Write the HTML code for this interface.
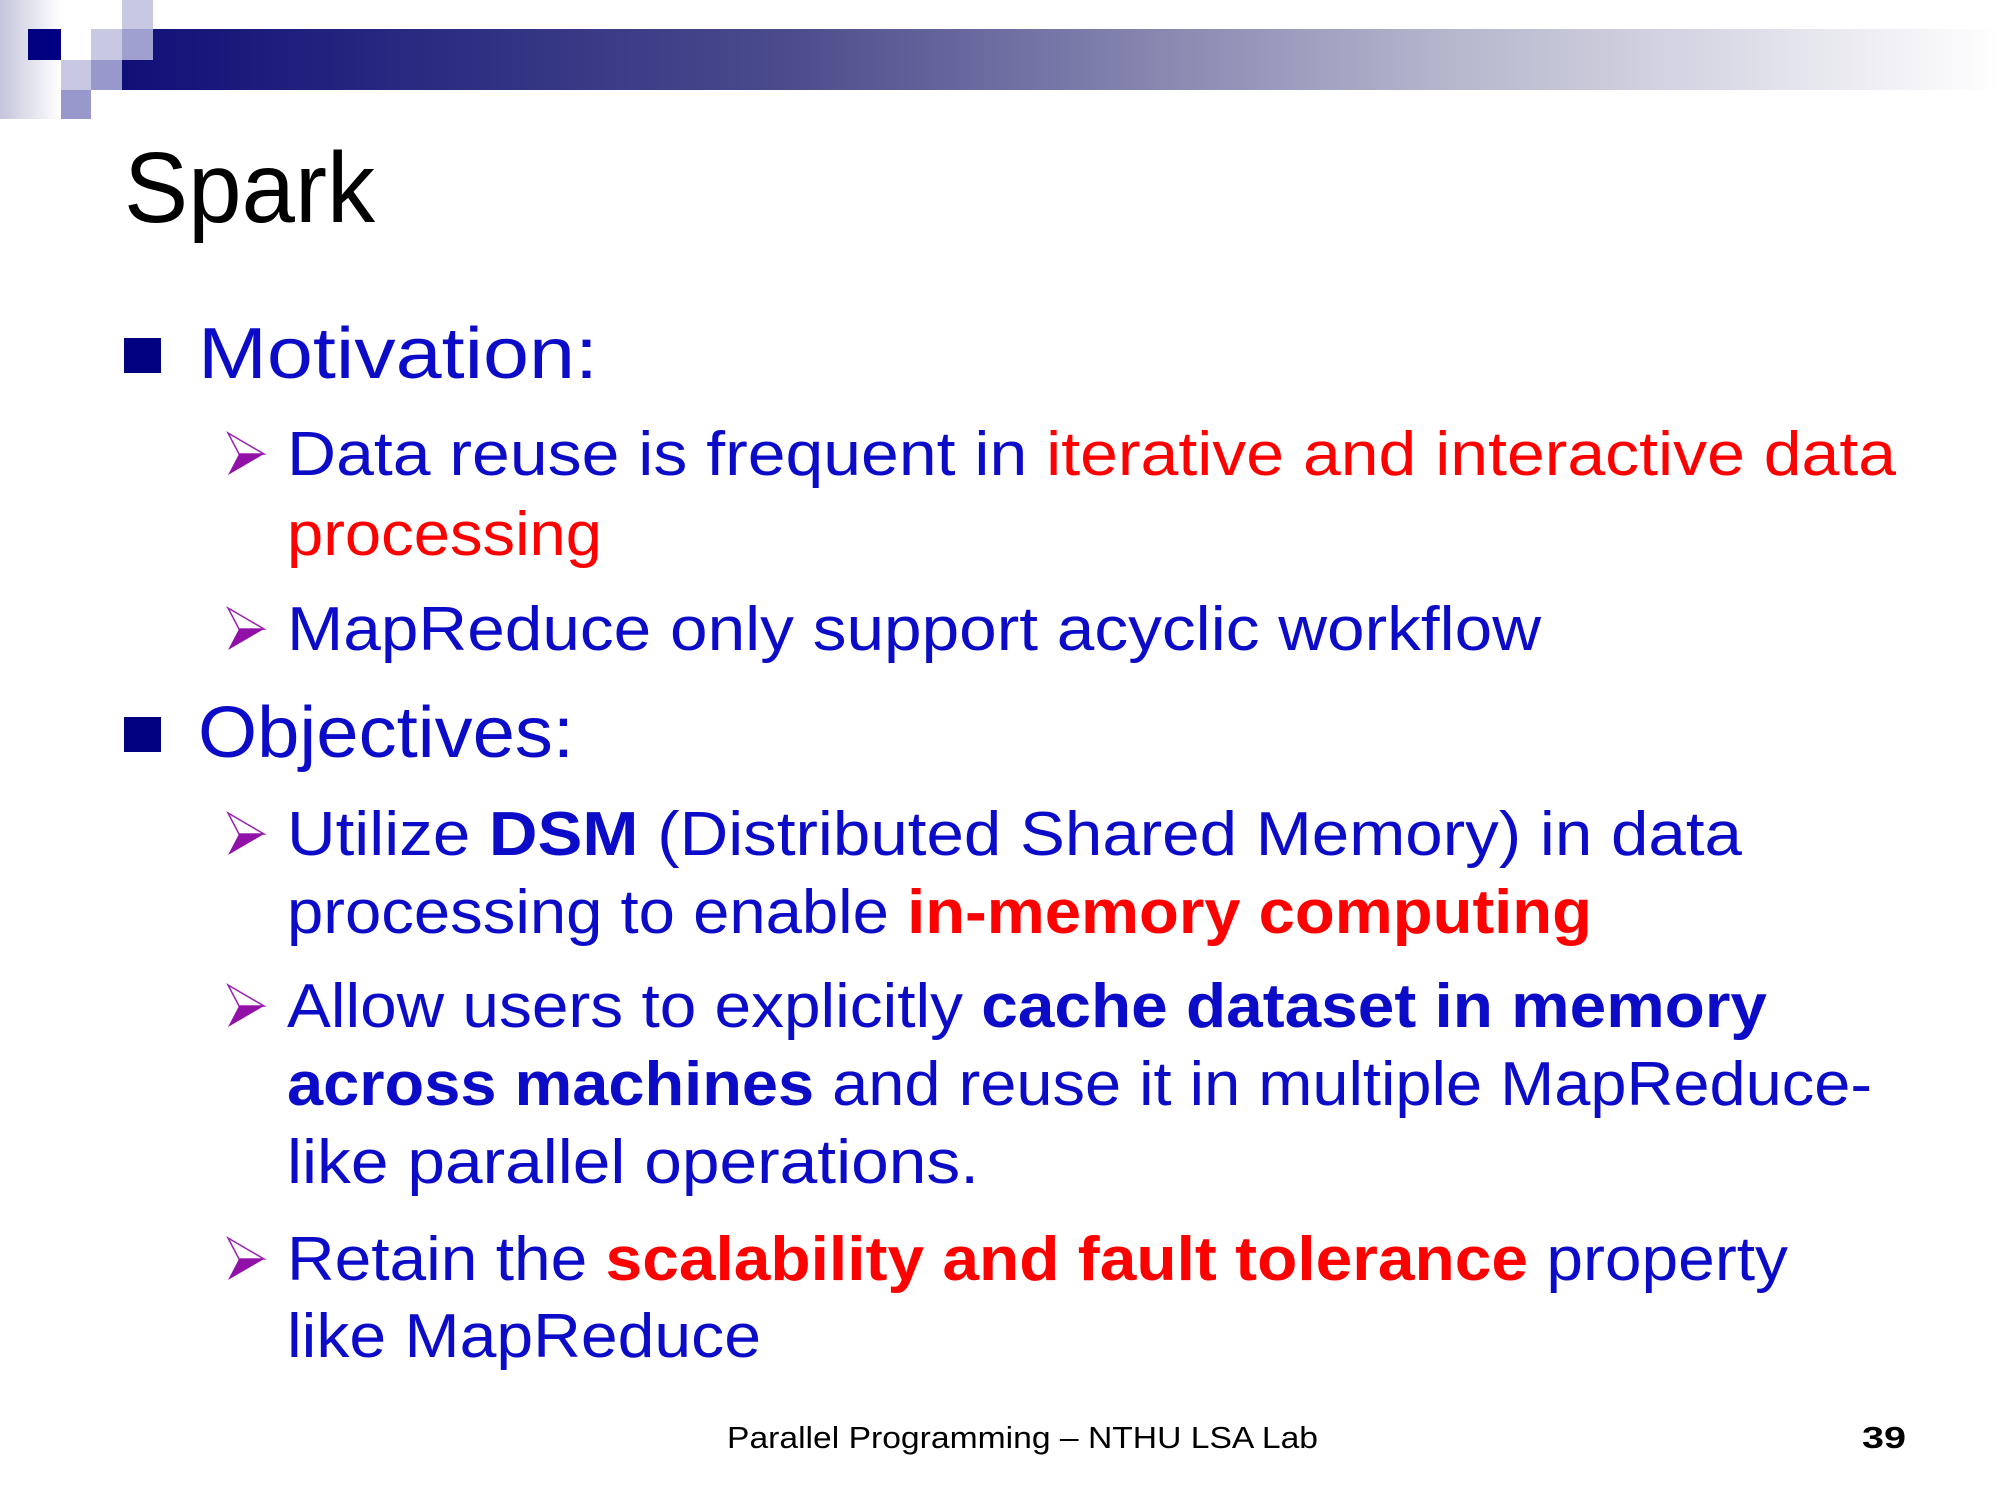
<!DOCTYPE html>
<html><head><meta charset="utf-8"><style>
html,body{margin:0;padding:0;background:#fff;}
svg{display:block}
text{font-family:"Liberation Sans",sans-serif;}
.b{fill:#0c0cc8}.r{fill:#ff0000}.bd{font-weight:bold}
</style></head><body>
<svg width="2000" height="1500" viewBox="0 0 2000 1500" xmlns="http://www.w3.org/2000/svg">
<defs>
<linearGradient id="bar" x1="0" x2="1" y1="0" y2="0">
<stop offset="0" stop-color="#101078"/>
<stop offset="0.35" stop-color="#4a4a8c"/>
<stop offset="0.7" stop-color="#b4b4cc"/>
<stop offset="1" stop-color="#ffffff"/>
</linearGradient>
<linearGradient id="lg" x1="0" x2="1" y1="0" y2="0">
<stop offset="0" stop-color="#c4c4dc"/>
<stop offset="1" stop-color="#ffffff"/>
</linearGradient>
<g id="arr">
<polygon points="0,0 36,21 11,21" fill="none" stroke="#9a20b0" stroke-width="1.5"/>
<polygon points="11,21 36,21 0,42" fill="#9010a8"/>
</g>
</defs>
<!-- header decoration -->
<rect x="0" y="0" width="61" height="119" fill="url(#lg)"/>
<rect x="122" y="29" width="1878" height="61" fill="url(#bar)"/>
<rect x="28" y="29" width="33" height="31" fill="#000080"/>
<rect x="61" y="29" width="30" height="31" fill="#ffffff"/>
<rect x="91" y="29" width="31" height="31" fill="#c8c8e2"/>
<rect x="122" y="0" width="31" height="29" fill="#c8c8e2"/>
<rect x="122" y="29" width="31" height="31" fill="#a0a0d0"/>
<rect x="61" y="60" width="30" height="30" fill="#c8c8e2"/>
<rect x="91" y="60" width="31" height="30" fill="#9898cc"/>
<rect x="61" y="90" width="30" height="29" fill="#9898cc"/>

<text x="124" y="222" font-size="100" fill="#000" textLength="251" lengthAdjust="spacingAndGlyphs">Spark</text>

<!-- Motivation -->
<rect x="124" y="338" width="37" height="35" fill="#000080"/>
<text x="198" y="378" font-size="72" class="b" textLength="400" lengthAdjust="spacingAndGlyphs">Motivation:</text>
<use href="#arr" x="228" y="433"/>
<text x="287" y="475" font-size="62" textLength="1609" lengthAdjust="spacingAndGlyphs"><tspan class="b">Data reuse is frequent in </tspan><tspan class="r">iterative and interactive data</tspan></text>
<text x="287" y="555" font-size="62" class="r" textLength="315" lengthAdjust="spacingAndGlyphs">processing</text>
<use href="#arr" x="228" y="608"/>
<text x="287" y="650" font-size="62" class="b" textLength="1254" lengthAdjust="spacingAndGlyphs">MapReduce only support acyclic workflow</text>

<!-- Objectives -->
<rect x="124" y="717" width="37" height="35" fill="#000080"/>
<text x="198" y="757" font-size="72" class="b" textLength="376" lengthAdjust="spacingAndGlyphs">Objectives:</text>
<use href="#arr" x="228" y="813"/>
<text x="287" y="855" font-size="62" textLength="1455" lengthAdjust="spacingAndGlyphs"><tspan class="b">Utilize </tspan><tspan class="b bd">DSM</tspan><tspan class="b"> (Distributed Shared Memory) in data</tspan></text>
<text x="287" y="933" font-size="62" textLength="1305" lengthAdjust="spacingAndGlyphs"><tspan class="b">processing to enable </tspan><tspan class="r bd">in-memory computing</tspan></text>
<use href="#arr" x="228" y="985"/>
<text x="287" y="1027" font-size="62" textLength="1480" lengthAdjust="spacingAndGlyphs"><tspan class="b">Allow users to explicitly </tspan><tspan class="b bd">cache dataset in memory</tspan></text>
<text x="287" y="1105" font-size="62" textLength="1585" lengthAdjust="spacingAndGlyphs"><tspan class="b bd">across machines</tspan><tspan class="b"> and reuse it in multiple MapReduce-</tspan></text>
<text x="287" y="1183" font-size="62" class="b" textLength="692" lengthAdjust="spacingAndGlyphs">like parallel operations.</text>
<use href="#arr" x="228" y="1238"/>
<text x="287" y="1280" font-size="62" textLength="1501" lengthAdjust="spacingAndGlyphs"><tspan class="b">Retain the </tspan><tspan class="r bd">scalability and fault tolerance</tspan><tspan class="b"> property</tspan></text>
<text x="287" y="1357" font-size="62" class="b" textLength="474" lengthAdjust="spacingAndGlyphs">like MapReduce</text>

<!-- footer -->
<text x="727" y="1448" font-size="31" fill="#000" textLength="591" lengthAdjust="spacingAndGlyphs">Parallel Programming – NTHU LSA Lab</text>
<text x="1862" y="1448" font-size="31" font-weight="bold" fill="#000" textLength="44" lengthAdjust="spacingAndGlyphs">39</text>
</svg>
</body></html>
